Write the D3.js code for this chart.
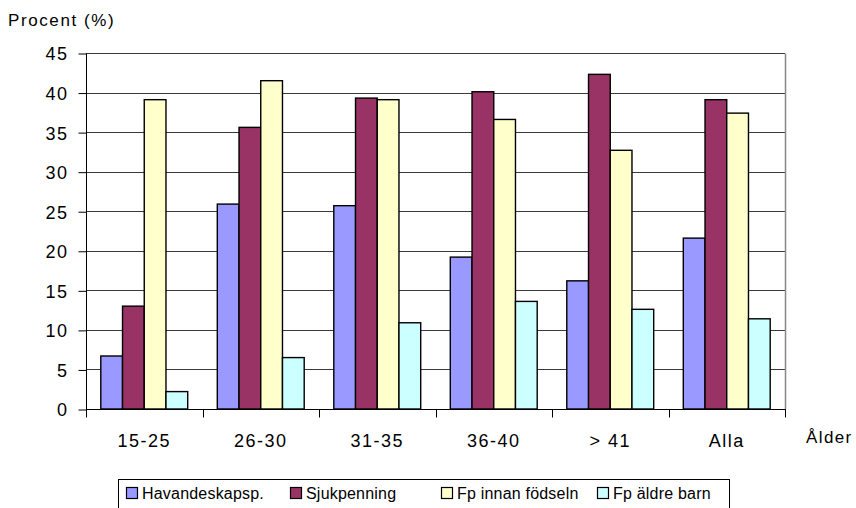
<!DOCTYPE html>
<html>
<head>
<meta charset="utf-8">
<script src="https://cdn.jsdelivr.net/npm/d3@7/dist/d3.min.js"></script>
<style>
  html, body { margin: 0; padding: 0; background: #fff; }
  svg { display: block; font-family: "Liberation Sans", Arial, sans-serif; }
</style>
</head>
<body>
<svg id="chart" width="856" height="508"></svg>
<script>
// Age groups along the x axis
const categories = ["15-25", "26-30", "31-35", "36-40", "> 41", "Alla"];
// Benefit types
const seriesNames = ["Havandeskapsp.", "Sjukpenning", "Fp innan födseln", "Fp äldre barn"];
const seriesColors = ["#9999FF", "#993366", "#FFFFCC", "#CCFFFF"];
// Percent per age group, one array per benefit type
const havandeskapsp = [6.7, 25.9, 25.7, 19.2, 16.2, 21.6];
const sjukpenning = [13.0, 35.6, 39.3, 40.1, 42.3, 39.1];
const fpInnanFodseln = [39.1, 41.5, 39.1, 36.6, 32.7, 37.4];
const fpAldreBarn = [2.2, 6.5, 10.9, 13.6, 12.6, 11.4];
const yTicks = [0, 5, 10, 15, 20, 25, 30, 35, 40, 45];

const seriesValues = [havandeskapsp, sjukpenning, fpInnanFodseln, fpAldreBarn];

const svg = d3.select("#chart");
const plot = { left: 86, right: 785, top: 53, bottom: 409 };

const x0 = d3.scaleBand().domain(categories).range([plot.left, plot.right]).padding(0);
const groupPad = x0.bandwidth() * 0.127;
const x1 = d3.scaleBand().domain(d3.range(seriesNames.length))
  .range([groupPad, x0.bandwidth() - groupPad]).padding(0);
const y = d3.scaleLinear().domain([0, 45]).range([plot.bottom, plot.top]);

// Horizontal gridlines
svg.append("g").selectAll("line").data(yTicks.filter(d => d > 0)).join("line")
  .attr("x1", plot.left).attr("x2", plot.right)
  .attr("y1", d => Math.round(y(d)) + 0.5).attr("y2", d => Math.round(y(d)) + 0.5)
  .attr("stroke", "#3a3a3a").attr("stroke-width", 1);

// Right border of the plot area
svg.append("line")
  .attr("x1", plot.right + 0.5).attr("x2", plot.right + 0.5)
  .attr("y1", Math.round(y(45)) + 0.5).attr("y2", plot.bottom + 0.5)
  .attr("stroke", "#888").attr("stroke-width", 1.5);

// Bars
const rows = categories.map((c, i) => ({ c, vals: seriesValues.map(s => s[i]) }));
const groups = svg.append("g").selectAll("g").data(rows).join("g")
  .attr("transform", d => `translate(${x0(d.c)},0)`);
groups.selectAll("rect").data(d => d.vals.map((v, k) => ({ v, k }))).join("rect")
  .attr("x", d => x1(d.k))
  .attr("width", x1.bandwidth())
  .attr("y", d => y(d.v))
  .attr("height", d => y(0) - y(d.v))
  .attr("fill", d => seriesColors[d.k])
  .attr("stroke", "#000").attr("stroke-width", 1.4);

// Y axis
const yAxis = d3.axisLeft(y).tickValues(yTicks).tickSize(8).tickPadding(10);
const gy = svg.append("g").attr("transform", `translate(${plot.left + 0.5},0.5)`).call(yAxis);
gy.select(".domain").attr("stroke", "#000").attr("d", `M0,${y(45)}V${y(0)}`);
gy.selectAll(".tick line").attr("stroke", "#000");
gy.selectAll(".tick text").attr("font-size", 18).attr("fill", "#000")
  .attr("letter-spacing", "1.5px").attr("dy", "0.36em")
  .attr("font-family", "Liberation Sans, Arial, sans-serif");

// X axis: category labels with boundary ticks
const gx = svg.append("g").attr("transform", `translate(0,${plot.bottom + 0.5})`);
gx.append("line").attr("x1", plot.left).attr("x2", plot.right + 1)
  .attr("stroke", "#000").attr("stroke-width", 1);
const bounds = categories.map(c => x0(c)).concat([plot.right]);
gx.selectAll("line.tk").data(bounds).join("line").attr("class", "tk")
  .attr("x1", d => Math.round(d) + 0.5).attr("x2", d => Math.round(d) + 0.5)
  .attr("y1", 0).attr("y2", 8).attr("stroke", "#000");
gx.selectAll("text").data(categories).join("text")
  .attr("x", d => x0(d) + x0.bandwidth() / 2)
  .attr("y", 37)
  .attr("text-anchor", "middle")
  .attr("font-size", 18).attr("letter-spacing", "1.5px").attr("fill", "#000")
  .text(d => d);

// Axis titles
svg.append("text").attr("x", 8).attr("y", 26)
  .attr("font-size", 17).attr("letter-spacing", "1.6px").attr("fill", "#000")
  .text("Procent (%)");
svg.append("text").attr("x", 806).attr("y", 443)
  .attr("font-size", 17).attr("letter-spacing", "1.4px").attr("fill", "#000")
  .text("Ålder");

// Legend
const legend = svg.append("g");
legend.append("rect").attr("x", 118.5).attr("y", 479.5)
  .attr("width", 611).attr("height", 40)
  .attr("fill", "#fff").attr("stroke", "#000").attr("stroke-width", 1);
const legendX = [126, 290, 441, 597];
const items = legend.selectAll("g").data(seriesNames).join("g")
  .attr("transform", (d, i) => `translate(${legendX[i]},0)`);
items.append("rect").attr("x", 0.5).attr("y", 487.5).attr("width", 11).attr("height", 11)
  .attr("fill", (d, i) => seriesColors[i]).attr("stroke", "#000").attr("stroke-width", 1.2);
items.append("text").attr("x", 16).attr("y", 499)
  .attr("font-size", 16).attr("letter-spacing", "0.2px").attr("fill", "#000")
  .text(d => d);
</script>
</body>
</html>
